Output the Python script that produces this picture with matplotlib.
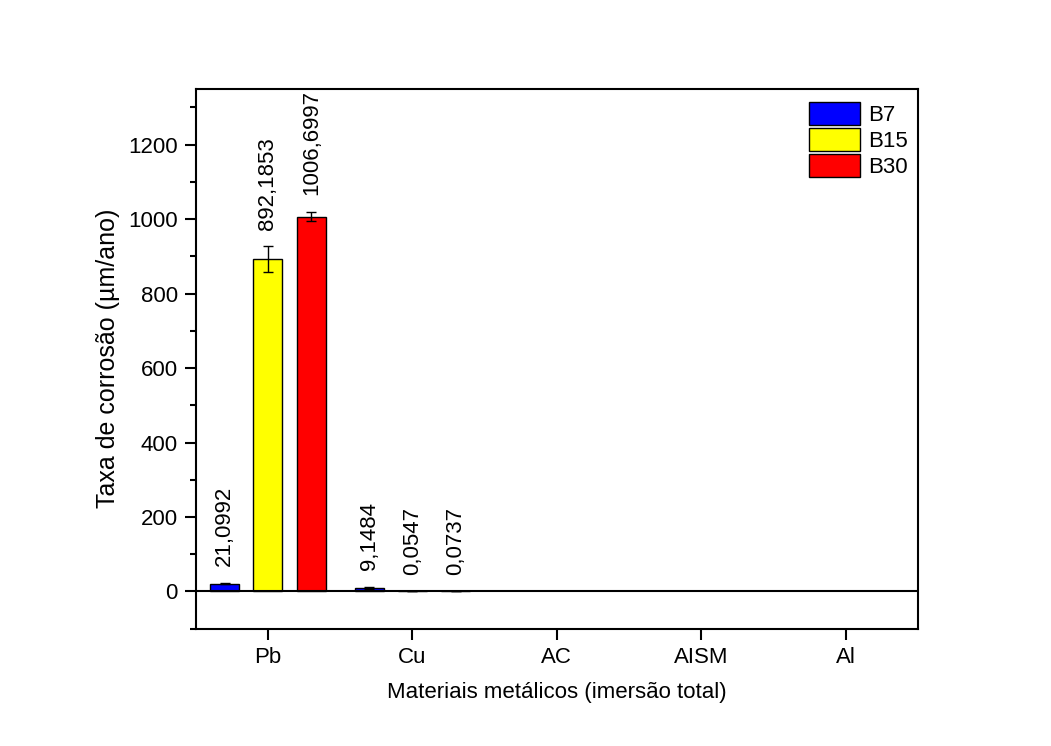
import matplotlib as mpl
mpl.use("Agg")
import matplotlib.pyplot as plt
import numpy as np
from matplotlib.ticker import MultipleLocator

plt.rcParams['font.family'] = ['Liberation Sans', 'DejaVu Sans']

# data
materials = ["Pb", "Cu", "AC", "AISM", "Al"]
series = ["B7", "B15", "B30"]
b7 = [21.0992, 9.1484, np.nan, np.nan, np.nan]
b15 = [892.1853, 0.0547, np.nan, np.nan, np.nan]
b30 = [1006.6997, 0.0737, np.nan, np.nan, np.nan]
b7_err = [2.0, 3.0, np.nan, np.nan, np.nan]
b15_err = [35.0, 0.0, np.nan, np.nan, np.nan]
b30_err = [12.5, 0.0, np.nan, np.nan, np.nan]
b7_lbl = ["21,0992", "9,1484", "", "", ""]
b15_lbl = ["892,1853", "0,0547", "", "", ""]
b30_lbl = ["1006,6997", "0,0737", "", "", ""]

colors = ["#0000ff", "#ffff00", "#ff0000"]

fig = plt.figure(figsize=(10.51, 7.46), dpi=100)
ax = fig.add_axes([0.1862, 0.1572, 0.6873, 0.7239])

x = np.arange(1, len(materials) + 1)
width = 0.2
offsets = [-0.3, 0.0, 0.3]
vals = [b7, b15, b30]
errs = [b7_err, b15_err, b30_err]
lbls = [b7_lbl, b15_lbl, b30_lbl]

for i in range(3):
    ax.bar(x + offsets[i], vals[i], width, color=colors[i], edgecolor="black",
           linewidth=1.0, label=series[i], zorder=2,
           yerr=errs[i], error_kw=dict(ecolor="black", elinewidth=1.0,
                                       capsize=3.5, capthick=1.0))
    for j in range(len(materials)):
        if lbls[i][j] == "":
            continue
        top = vals[i][j] + errs[i][j]
        ax.annotate(lbls[i][j], (x[j] + offsets[i], top), xytext=(0, 12),
                    textcoords="offset points", rotation=90, ha="center",
                    va="bottom", fontsize=16)

ax.axhline(0, color="black", linewidth=1.5, zorder=3)

ax.set_xlim(0.5, 5.5)
ax.set_ylim(-100, 1350)
ax.set_xticks(x)
ax.set_xticklabels(materials)
ax.yaxis.set_major_locator(MultipleLocator(200))
ax.yaxis.set_minor_locator(MultipleLocator(100))
ax.tick_params(axis="both", which="major", labelsize=16, direction="out",
               length=8, width=1.5, pad=5)
ax.tick_params(axis="y", which="minor", direction="out", length=4.5, width=1.5)
ax.tick_params(axis="x", which="minor", bottom=False)
for s in ax.spines.values():
    s.set_linewidth(1.5)

ax.set_xlabel("Materiais metálicos (imersão total)", fontsize=16, labelpad=10)
ax.set_ylabel("Taxa de corrosão (µm/ano)", fontsize=18, labelpad=6)

ax.legend(loc="upper right", frameon=False, fontsize=16, handlelength=2.3,
          handleheight=1.2, handletextpad=0.4, labelspacing=0.1,
          borderaxespad=0.2, bbox_to_anchor=(1.005, 1.0))

plt.savefig("out.png", dpi=100)
